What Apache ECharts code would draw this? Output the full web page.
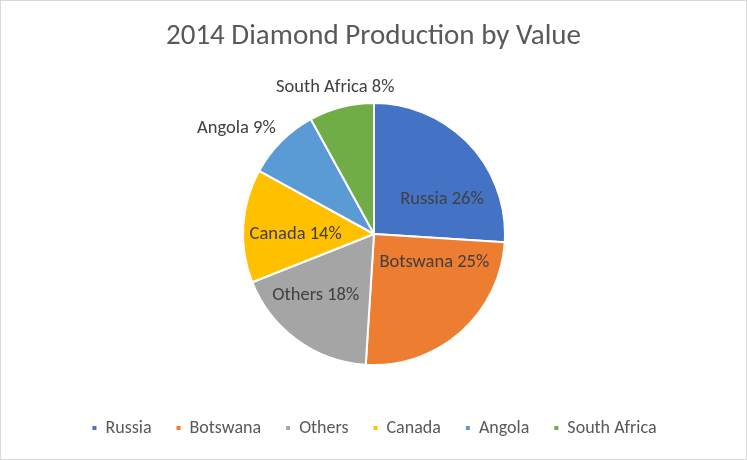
<!DOCTYPE html>
<html>
<head>
<meta charset="utf-8">
<script src="https://cdn.jsdelivr.net/npm/echarts@6/dist/echarts.min.js"></script>
<style>
  html, body { margin: 0; padding: 0; background: #fff; }
  #chart { width: 745px; height: 458px; border: 1px solid #d9d9d9; }
</style>
</head>
<body>
<div id="chart"></div>
<script>
// values (percent of 2014 world diamond value)
const countries = ["Russia", "Botswana", "Others", "Canada", "Angola", "South Africa"];
const shares = [26, 25, 18, 14, 9, 8];
const colors = ["#4472C4", "#ED7D31", "#A5A5A5", "#FFC000", "#5B9BD5", "#70AD47"];
// where Excel put each label: inside the slice or outside it
const labelPlace = ["inside", "inside", "inside", "inside", "outside", "outside"];
// nudges so the labels sit where Excel put them
const labelShift = [[18, 12], [15, -23], [-18, 6], [-10, 5], [5, -7], [60, -12]];

const font = "Calibri, Carlito, 'Open Sans', 'Liberation Sans', sans-serif";

const chart = echarts.init(document.getElementById("chart"));

chart.setOption({
  backgroundColor: "#fff",
  animation: false,
  title: {
    text: "2014 Diamond Production by Value",
    left: "center",
    top: 16,
    textStyle: { fontFamily: font, fontSize: 29, fontWeight: "normal", color: "#595959" }
  },
  legend: {
    bottom: 17,
    left: "center",
    icon: "rect",
    itemWidth: 6,
    itemHeight: 6,
    itemGap: 23,
    textStyle: { fontFamily: font, fontSize: 18, color: "#595959", padding: [0, 0, 0, 3] }
  },
  series: [{
    type: "pie",
    center: [373, 233],
    radius: 131,
    startAngle: 90,
    clockwise: true,
    itemStyle: { borderColor: "#fff", borderWidth: 2 },
    label: {
      formatter: "{b} {d}%",
      fontFamily: font,
      fontSize: 18.5,
      color: "#404040"
    },
    labelLine: { show: false, length: 8, length2: 0 },
    labelLayout: (p) => ({ dx: labelShift[p.dataIndex][0], dy: labelShift[p.dataIndex][1] }),
    data: countries.map((name, i) => ({
      name: name,
      value: shares[i],
      itemStyle: { color: colors[i] },
      label: { position: labelPlace[i] }
    }))
  }]
});
</script>
</body>
</html>
